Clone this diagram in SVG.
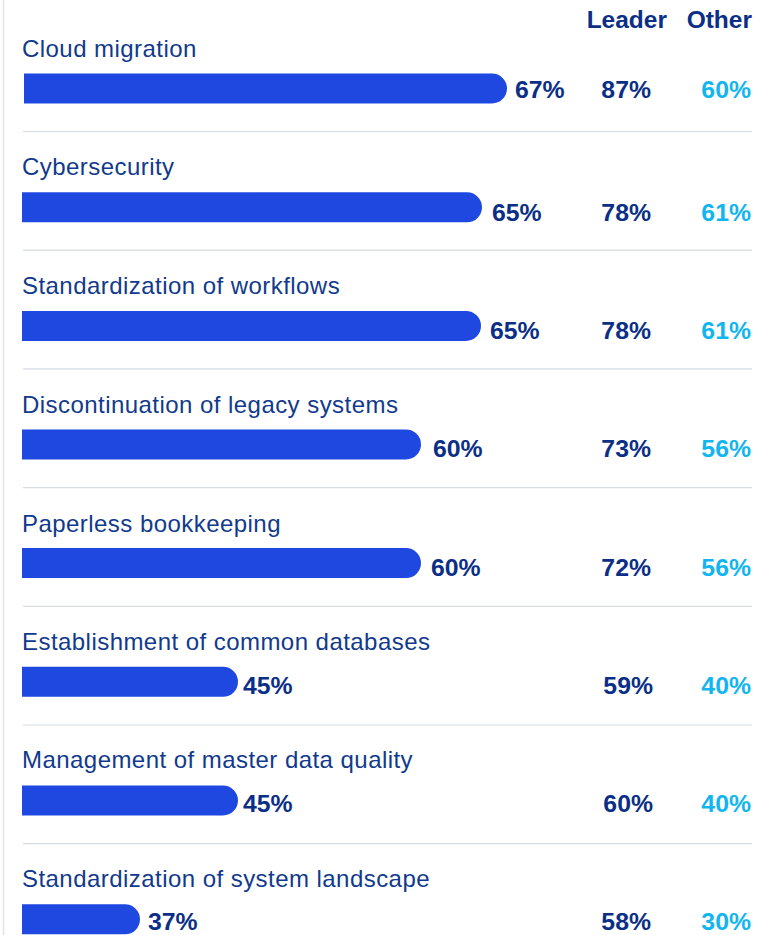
<svg xmlns="http://www.w3.org/2000/svg" width="779" height="935" viewBox="0 0 779 935">
<style>
.lbl{font-family:"Liberation Sans",Arial,sans-serif;font-size:24px;letter-spacing:0.45px;fill:#123a8c;}
.val{font-family:"Liberation Sans",Arial,sans-serif;font-size:24.8px;font-weight:bold;fill:#0b2f86;}
.hdr{font-family:"Liberation Sans",Arial,sans-serif;font-size:24.5px;font-weight:bold;fill:#0b2f86;text-anchor:end;}
.oth{font-family:"Liberation Sans",Arial,sans-serif;font-size:24.8px;font-weight:bold;fill:#13b5f0;text-anchor:end;}
.ldr{text-anchor:end;}
.bar{fill:#1f48e0;}
.sep{stroke:#d6dbe4;stroke-width:1.2;}
</style>
<rect width="779" height="935" fill="#ffffff"/>
<line x1="3.5" y1="0" x2="3.5" y2="935" stroke="#e2e2e2" stroke-width="1.5"/>
<g id="header">
<text class="hdr" x="667" y="28">Leader</text>
<text class="hdr" x="752" y="28">Other</text>
</g>
<g id="separators">
<line class="sep" x1="23" y1="131.5" x2="752" y2="131.5"/>
<line class="sep" x1="23" y1="250.2" x2="752" y2="250.2"/>
<line class="sep" x1="23" y1="368.9" x2="752" y2="368.9"/>
<line class="sep" x1="23" y1="487.6" x2="752" y2="487.6"/>
<line class="sep" x1="23" y1="606.3" x2="752" y2="606.3"/>
<line class="sep" x1="23" y1="725" x2="752" y2="725"/>
<line class="sep" x1="23" y1="843.7" x2="752" y2="843.7"/>
</g>
<g id="row1">
<text class="lbl" x="22" y="57">Cloud migration</text>
<path class="bar" d="M24,73.5 H492 a15,15 0 0 1 0,30 H24 Z"/>
<text class="val" x="515" y="98">67%</text>
<text class="val ldr" x="651" y="98">87%</text>
<text class="oth" x="751" y="98">60%</text>
</g>
<g id="row2">
<text class="lbl" x="22" y="175.3">Cybersecurity</text>
<path class="bar" d="M22,192.3 H467 a15,15 0 0 1 0,30 H22 Z"/>
<text class="val" x="492" y="220.7">65%</text>
<text class="val ldr" x="651" y="220.7">78%</text>
<text class="oth" x="751" y="220.7">61%</text>
</g>
<g id="row3">
<text class="lbl" x="22" y="294.2">Standardization of workflows</text>
<path class="bar" d="M22,310.9 H466 a15,15 0 0 1 0,30 H22 Z"/>
<text class="val" x="490" y="339.2">65%</text>
<text class="val ldr" x="651" y="339.2">78%</text>
<text class="oth" x="751" y="339.2">61%</text>
</g>
<g id="row4">
<text class="lbl" x="22" y="413">Discontinuation of legacy systems</text>
<path class="bar" d="M22,429.4 H406 a15,15 0 0 1 0,30 H22 Z"/>
<text class="val" x="433" y="457.4">60%</text>
<text class="val ldr" x="651" y="457.4">73%</text>
<text class="oth" x="751" y="457.4">56%</text>
</g>
<g id="row5">
<text class="lbl" x="22" y="531.6">Paperless bookkeeping</text>
<path class="bar" d="M22,548.1 H406 a15,15 0 0 1 0,30 H22 Z"/>
<text class="val" x="431" y="576">60%</text>
<text class="val ldr" x="651" y="576">72%</text>
<text class="oth" x="751" y="576">56%</text>
</g>
<g id="row6">
<text class="lbl" x="22" y="649.6">Establishment of common databases</text>
<path class="bar" d="M22,666.8 H223 a15,15 0 0 1 0,30 H22 Z"/>
<text class="val" x="243" y="694.3">45%</text>
<text class="val ldr" x="653" y="694.3">59%</text>
<text class="oth" x="751" y="694.3">40%</text>
</g>
<g id="row7">
<text class="lbl" x="22" y="768.2">Management of master data quality</text>
<path class="bar" d="M22,785.5 H223 a15,15 0 0 1 0,30 H22 Z"/>
<text class="val" x="243" y="812.4">45%</text>
<text class="val ldr" x="653" y="812.4">60%</text>
<text class="oth" x="751" y="812.4">40%</text>
</g>
<g id="row8">
<text class="lbl" x="22" y="886.8">Standardization of system landscape</text>
<path class="bar" d="M22,904.3 H125 a15,15 0 0 1 0,30 H22 Z"/>
<text class="val" x="148" y="930.3">37%</text>
<text class="val ldr" x="651" y="930.3">58%</text>
<text class="oth" x="751" y="930.3">30%</text>
</g>
</svg>
